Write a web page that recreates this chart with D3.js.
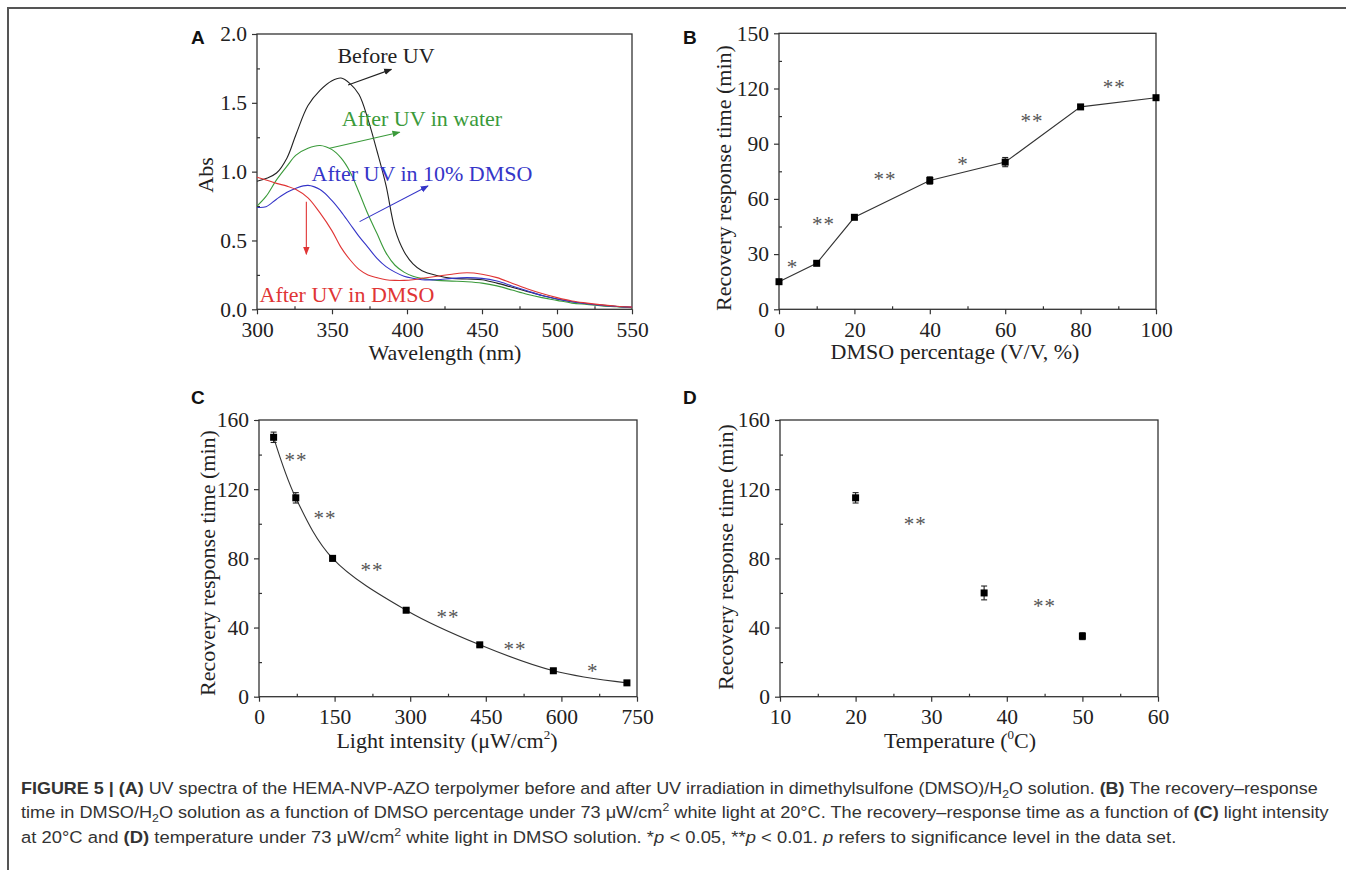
<!DOCTYPE html>
<html><head><meta charset="utf-8">
<script src="https://cdn.jsdelivr.net/npm/d3@7"></script>
<style>
html,body{margin:0;padding:0;background:#fff;}
svg{display:block;}
</style></head>
<body>
<svg id="chart" width="1346" height="870"></svg>
<script>
// ---------- DATA ----------
// Panel A: UV spectra
const wavelengths = [300,306,313,320,326,334,342,350,356,362,368,374,380,386,392,398,404,410,420,430,440,450,460,470,480,490,500,510,520,530,540,550];
const absBefore = [0.93,0.95,0.99,1.10,1.27,1.48,1.59,1.66,1.68,1.64,1.56,1.38,1.15,0.90,0.58,0.42,0.33,0.28,0.245,0.225,0.22,0.215,0.19,0.16,0.13,0.10,0.075,0.055,0.04,0.03,0.02,0.015];
const absWater  = [0.75,0.82,0.94,1.04,1.12,1.17,1.19,1.16,1.10,1.00,0.85,0.69,0.55,0.41,0.32,0.27,0.24,0.225,0.21,0.205,0.20,0.19,0.17,0.14,0.11,0.085,0.065,0.045,0.035,0.025,0.018,0.012];
const abs10DMSO = [0.74,0.745,0.80,0.85,0.88,0.90,0.87,0.79,0.71,0.62,0.53,0.45,0.37,0.31,0.27,0.24,0.225,0.215,0.215,0.225,0.23,0.225,0.205,0.17,0.135,0.10,0.075,0.055,0.04,0.028,0.02,0.014];
const absDMSO   = [0.96,0.94,0.915,0.895,0.87,0.81,0.70,0.57,0.45,0.36,0.29,0.25,0.23,0.215,0.21,0.21,0.215,0.225,0.24,0.255,0.265,0.255,0.23,0.19,0.15,0.115,0.085,0.06,0.045,0.032,0.022,0.016];
const seriesNamesA = ["Before UV","After UV in water","After UV in 10% DMSO","After UV in DMSO"];
const seriesColorsA = ["#222222","#3a9a3a","#3535c8","#e03535"];
// label centres [wavelength, abs] and arrows [x1,y1,x2,y2]
const labelPosA = [[386,1.847],[410,1.387],[410,0.988],[360,0.104]];
const arrowsA = [[360.7,1.63,389.6,1.743],[348.4,1.17,395.1,1.286],[368.4,0.637,414,0.896],[332.9,0.782,332.9,0.40]];

// Panel B
const dmsoPct = [0,10,20,40,60,80,100];
const timeB = [15,25,50,70,80,110,115];
const errB = [0.8,1,1,2,2.5,1,1];
const starsB = [["*",3.6,24],["**",11.8,47.6],["**",28.1,72],["*",48.8,80.3],["**",67.1,103.3],["**",88.9,121.9]];

// Panel C
const lightInt = [29,73,146,292,438,584,730];
const timeC = [150,115,80,50,30,15,8];
const errC = [3,3,1.5,1,1,1,1];
const starsC = [["**",73.5,138.2],["**",131,104.5],["**",224,74.2],["**",375,47.2],["**",508,28.9],["*",662,16]];

// Panel D
const temps = [20,37,50];
const timeD = [115,60,35];
const errD = [3,4,2];
const starsD = [["**",27.9,100.8],["**",45,53.4]];

// Tick values
const ticksAx = [300,350,400,450,500,550], minorAx = [325,375,425,475,525];
const ticksAy = [0,0.5,1.0,1.5,2.0], minorAy = [0.25,0.75,1.25,1.75];
const ticksBx = [0,20,40,60,80,100], minorBx = [10,30,50,70,90];
const ticksBy = [0,30,60,90,120,150], minorBy = [15,45,75,105,135];
const ticksCx = [0,150,300,450,600,750], minorCx = [75,225,375,525,675];
const ticksCy = [0,40,80,120,160], minorCy = [20,60,100,140];
const ticksDx = [10,20,30,40,50,60], minorDx = [15,25,35,45,55];
const ticksDy = [0,40,80,120,160], minorDy = [20,60,100,140];

// ---------- DRAW ----------
const svg = d3.select("#chart");
svg.append("rect").attr("width",1346).attr("height",870).attr("fill","#fff");
svg.append("path").attr("d","M8,870V8H1346").attr("fill","none").attr("stroke","#555").attr("stroke-width",2);

const SERIF = "'Liberation Serif','Times New Roman',serif";
const SANS = "'Liberation Sans',Arial,Helvetica,sans-serif";
const AX = "#333";

function panel(cfg){
  const g = svg.append("g");
  const x = d3.scaleLinear().domain(cfg.xd).range(cfg.xr);
  const y = d3.scaleLinear().domain(cfg.yd).range(cfg.yr);
  // minor ticks inward
  const mx = g.append("g").attr("transform",`translate(0,${cfg.yr[0]})`)
    .call(d3.axisBottom(x).tickValues(cfg.minx).tickSize(-3).tickFormat(""));
  const my = g.append("g").attr("transform",`translate(${cfg.xr[0]},0)`)
    .call(d3.axisLeft(y).tickValues(cfg.miny).tickSize(-3).tickFormat(""));
  // major ticks outward
  const ax = g.append("g").attr("transform",`translate(0,${cfg.yr[0]})`)
    .call(d3.axisBottom(x).tickValues(cfg.tx).tickSize(5).tickPadding(7).tickFormat(cfg.fx||d3.format("d")));
  const ay = g.append("g").attr("transform",`translate(${cfg.xr[0]},0)`)
    .call(d3.axisLeft(y).tickValues(cfg.ty).tickSize(5).tickPadding(5).tickFormat(cfg.fy||d3.format("d")));
  [mx,my,ax,ay].forEach(a=>{a.select(".domain").remove(); a.selectAll("line").attr("stroke",AX).attr("stroke-width",1.2);});
  [ax,ay].forEach(a=>a.selectAll("text").attr("font-family",SERIF).attr("font-size",21.5).attr("fill","#222"));
  // frame
  g.append("rect").attr("x",cfg.xr[0]).attr("y",cfg.yr[1]).attr("width",cfg.xr[1]-cfg.xr[0]).attr("height",cfg.yr[0]-cfg.yr[1])
    .attr("fill","none").attr("stroke",AX).attr("stroke-width",1.3);
  // titles
  const xt = g.append("text").attr("x",cfg.xtPos[0]).attr("y",cfg.xtPos[1]).attr("text-anchor","middle")
    .attr("font-family",SERIF).attr("font-size",22).attr("fill","#222");
  cfg.xtitle.forEach(s=>{
    const t = xt.append("tspan").text(s[0]);
    if(s[1]==="sup") t.attr("font-size",13).attr("dy",-9);
    if(s[1]==="after") t.attr("dy",9);
  });
  g.append("text").attr("transform",`translate(${cfg.ytPos[0]},${cfg.ytPos[1]}) rotate(-90)`)
    .attr("text-anchor","middle").attr("dominant-baseline","central")
    .attr("font-family",SERIF).attr("font-size",22).attr("fill","#222").text(cfg.ytitle);
  // panel letter
  g.append("text").attr("x",cfg.lab[0]).attr("y",cfg.lab[1]).attr("font-family",SANS).attr("font-weight","bold")
    .attr("font-size",19).attr("fill","#111").text(cfg.letter);
  return {g,x,y};
}

function stars(p, list){
  p.g.selectAll(null).data(list).enter().append("text")
    .attr("x",d=>p.x(d[1])).attr("y",d=>p.y(d[2])+9).attr("text-anchor","middle")
    .attr("font-family",SERIF).attr("font-size",21).attr("fill","#555").attr("letter-spacing",1)
    .text(d=>d[0]);
}
function points(p, xs, ys, es){
  const data = xs.map((v,i)=>({x:v,y:ys[i],e:es[i]}));
  const eb = p.g.append("g").attr("stroke","#222").attr("stroke-width",1.1);
  data.forEach(d=>{
    const x=p.x(d.x), y1=p.y(d.y-d.e), y2=p.y(d.y+d.e);
    eb.append("line").attr("x1",x).attr("x2",x).attr("y1",y1).attr("y2",y2);
    eb.append("line").attr("x1",x-3).attr("x2",x+3).attr("y1",y1).attr("y2",y1);
    eb.append("line").attr("x1",x-3).attr("x2",x+3).attr("y1",y2).attr("y2",y2);
  });
  p.g.selectAll(null).data(data).enter().append("rect")
    .attr("x",d=>p.x(d.x)-3.5).attr("y",d=>p.y(d.y)-3.5).attr("width",7).attr("height",7).attr("fill","#000");
}

// ----- Panel A -----
const pA = panel({xd:[300,550],xr:[257,632],yd:[0,2],yr:[309.3,34],tx:ticksAx,minx:minorAx,ty:ticksAy,miny:minorAy,
  fy:d3.format(".1f"),xtitle:[["Wavelength (nm)"]],xtPos:[445,360],ytitle:"Abs",ytPos:[205,175],letter:"A",lab:[191,44]});
const defs = svg.append("defs");
seriesColorsA.forEach((c,i)=>{
  defs.append("marker").attr("id","arr"+i).attr("viewBox","0 0 10 10").attr("refX",9).attr("refY",5)
    .attr("markerWidth",8).attr("markerHeight",8).attr("markerUnits","userSpaceOnUse").attr("orient","auto")
    .append("path").attr("d","M0,1L10,5L0,9Z").attr("fill",c);
});
const specs = [absBefore,absWater,abs10DMSO,absDMSO];
const lineA = d3.line().x(d=>pA.x(d[0])).y(d=>pA.y(d[1])).curve(d3.curveCatmullRom);
specs.forEach((s,i)=>{
  pA.g.append("path").datum(wavelengths.map((w,j)=>[w,s[j]])).attr("d",lineA)
    .attr("fill","none").attr("stroke",seriesColorsA[i]).attr("stroke-width",1.1);
});
arrowsA.forEach((a,i)=>{
  pA.g.append("line").attr("x1",pA.x(a[0])).attr("y1",pA.y(a[1])).attr("x2",pA.x(a[2])).attr("y2",pA.y(a[3]))
    .attr("stroke",seriesColorsA[i]).attr("stroke-width",1.1).attr("marker-end",`url(#arr${i})`);
});
labelPosA.forEach((l,i)=>{
  pA.g.append("text").attr("x",pA.x(l[0])).attr("y",pA.y(l[1])).attr("text-anchor","middle").attr("dominant-baseline","central")
    .attr("font-family",SERIF).attr("font-size",22).attr("fill",seriesColorsA[i]).text(seriesNamesA[i]);
});

// ----- Panel B -----
const pB = panel({xd:[0,100],xr:[779,1156],yd:[0,150],yr:[309.3,33.3],tx:ticksBx,minx:minorBx,ty:ticksBy,miny:minorBy,
  xtitle:[["DMSO percentage (V/V, %)"]],xtPos:[955,359],ytitle:"Recovery response time (min)",ytPos:[723,178],letter:"B",lab:[683,44]});
pB.g.append("path").datum(dmsoPct.map((v,i)=>[v,timeB[i]]))
  .attr("d",d3.line().x(d=>pB.x(d[0])).y(d=>pB.y(d[1])))
  .attr("fill","none").attr("stroke","#333").attr("stroke-width",1.1);
points(pB,dmsoPct,timeB,errB);
stars(pB,starsB);

// ----- Panel C -----
const pC = panel({xd:[0,750],xr:[259,637],yd:[0,160],yr:[696.7,420],tx:ticksCx,minx:minorCx,ty:ticksCy,miny:minorCy,
  xtitle:[["Light intensity (μW/cm"],["2","sup"],[")","after"]],xtPos:[447,748],ytitle:"Recovery response time (min)",ytPos:[207,563],letter:"C",lab:[191,404]});
pC.g.append("path").datum(lightInt.map((v,i)=>[v,timeC[i]]))
  .attr("d",d3.line().x(d=>pC.x(d[0])).y(d=>pC.y(d[1])).curve(d3.curveCatmullRom))
  .attr("fill","none").attr("stroke","#333").attr("stroke-width",1.1);
points(pC,lightInt,timeC,errC);
stars(pC,starsC);

// ----- Panel D -----
const pD = panel({xd:[10,60],xr:[780,1158],yd:[0,160],yr:[696.7,420],tx:ticksDx,minx:minorDx,ty:ticksDy,miny:minorDy,
  xtitle:[["Temperature ("],["0","sup"],["C)","after"]],xtPos:[960,748],ytitle:"Recovery response time (min)",ytPos:[725,557],letter:"D",lab:[683,404]});
points(pD,temps,timeD,errD);
stars(pD,starsD);

// ----- Caption -----
const captionLines = [
  [["FIGURE 5 | (A)","b"],[" UV spectra of the HEMA-NVP-AZO terpolymer before and after UV irradiation in dimethylsulfone (DMSO)/H",""],["2","sub"],["O solution. ",""],["(B)","b"],[" The recovery–response",""]],
  [["time in DMSO/H",""],["2","sub"],["O solution as a function of DMSO percentage under 73 μW/cm",""],["2","sup"],[" white light at 20°C. The recovery–response time as a function of ",""],["(C)","b"],[" light intensity",""]],
  [["at 20°C and ",""],["(D)","b"],[" temperature under 73 μW/cm",""],["2","sup"],[" white light in DMSO solution. *",""],["p","i"],[" < 0.05, **",""],["p","i"],[" < 0.01. ",""],["p","i"],[" refers to significance level in the data set.",""]]
];
const capX = 21, capY = [794,818,843], capEnd = [1319,1329,1177];
captionLines.forEach((segs,li)=>{
  const t = svg.append("text").attr("x",0).attr("y",0).attr("font-family",SANS).attr("font-size",17).attr("fill","#333");
  let shift = 0;
  segs.forEach(s=>{
    const ts = t.append("tspan").text(s[0]);
    let dy = -shift;
    if(s[1]==="b") ts.attr("font-weight","bold");
    if(s[1]==="i") ts.attr("font-style","italic");
    if(s[1]==="sub"){ ts.attr("font-size",11.5); dy += 4; shift = 4; }
    else if(s[1]==="sup"){ ts.attr("font-size",11.5); dy += -7; shift = -7; }
    else shift = 0;
    if(dy!==0) ts.attr("dy",dy);
  });
  const w = t.node().getComputedTextLength();
  const sx = (capEnd[li]-capX)/w;
  t.attr("transform",`translate(${capX},${capY[li]}) scale(${sx},1)`);
});
</script>
</body></html>
